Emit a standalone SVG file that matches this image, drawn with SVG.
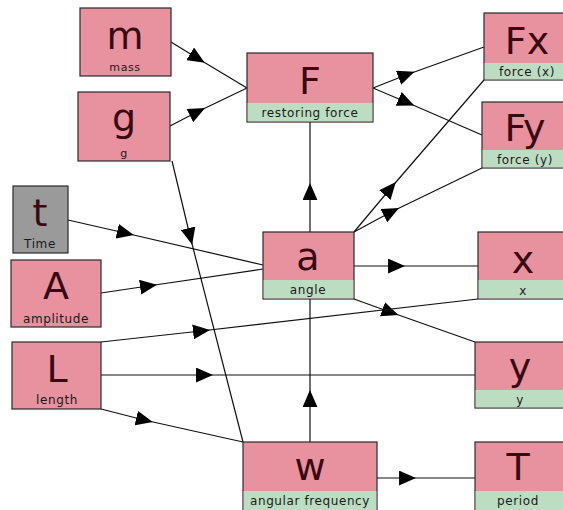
<svg xmlns="http://www.w3.org/2000/svg" width="563" height="510" viewBox="0 0 563 510">
<style>
.box{fill:#E8919F;stroke:#2a2a2a;stroke-width:1.2}
.gray{fill:#9a9a9a;stroke:#2a2a2a;stroke-width:1.2}
.strip{fill:#BCDDC2;stroke:none}
.big{font-family:"DejaVu Sans",sans-serif;font-size:38px;fill:#3a0a12;text-anchor:middle}
.lbl{font-family:"DejaVu Sans",sans-serif;font-size:12px;fill:#1a1a1a;text-anchor:middle;letter-spacing:0.6px}
.c{fill:none;stroke:#111;stroke-width:1.2;marker-mid:url(#arr)}
</style>
<defs>
<marker id="arr" markerUnits="userSpaceOnUse" markerWidth="17" markerHeight="15" refX="7.5" refY="7" orient="auto" viewBox="0 0 16 14">
<path d="M0,0 L16,7 L0,14 z" fill="#000"/>
</marker>
</defs>
<rect width="563" height="510" fill="#fff"/>
<g id="connectors">
<path class="c" d="M171,42 L197,58 L247,88"/>
<path class="c" d="M170,126 L197,112 L247,88"/>
<path class="c" d="M373,88 L406,75 L484,47"/>
<path class="c" d="M373,88 L406,102 L482,135"/>
<path class="c" d="M310,232 L310,192 L310,122"/>
<path class="c" d="M354,232 L390,189 L484,80"/>
<path class="c" d="M354,232 L391,212 L482,168"/>
<path class="c" d="M68,220 L125,233 L263,265"/>
<path class="c" d="M101,293 L148,286 L263,269"/>
<path class="c" d="M172,161 L190,236 L243,442"/>
<path class="c" d="M354,266 L396,266 L478,266"/>
<path class="c" d="M354,299 L390,312 L475,342"/>
<path class="c" d="M101,342 L201,331 L478,299"/>
<path class="c" d="M101,375 L204,375 L475,375"/>
<path class="c" d="M101,409 L144,420 L243,442"/>
<path class="c" d="M310,442 L310,399 L310,299"/>
<path class="c" d="M377,478 L407,478 L475,478"/>
</g>
<g id="m"><rect class="box" x="80" y="8" width="91" height="68"/><text class="big" x="125" y="49">m</text><text class="lbl" x="125" y="71" style="font-size:11px">mass</text></g>
<g id="g"><rect class="box" x="78" y="92" width="92" height="69"/><text class="big" x="124" y="131">g</text><text class="lbl" x="124" y="157" style="font-size:11px">g</text></g>
<g id="F"><rect class="box" x="247" y="53" width="126" height="69"/><rect class="strip" x="247.6" y="103" width="124.8" height="18.4"/><text class="big" x="310" y="94">F</text><text class="lbl" x="310" y="117">restoring force</text></g>
<g id="Fx"><rect class="box" x="484" y="13" width="95" height="67"/><rect class="strip" x="484.6" y="63" width="94" height="16.4"/><text class="big" x="527" y="54">Fx</text><text class="lbl" x="527" y="76">force (x)</text></g>
<g id="Fy"><rect class="box" x="482" y="102" width="95" height="66"/><rect class="strip" x="482.6" y="150" width="94" height="17.4"/><text class="big" x="525" y="141">Fy</text><text class="lbl" x="525" y="164">force (y)</text></g>
<g id="t"><rect class="gray" x="13" y="186" width="55" height="67"/><text class="big" x="40" y="226">t</text><text class="lbl" x="40" y="248">Time</text></g>
<g id="A"><rect class="box" x="11" y="260" width="90" height="67"/><text class="big" x="56" y="299">A</text><text class="lbl" x="56" y="323">amplitude</text></g>
<g id="a"><rect class="box" x="263" y="232" width="91" height="67"/><rect class="strip" x="263.6" y="280" width="89.8" height="18.4"/><text class="big" x="308" y="270">a</text><text class="lbl" x="308" y="294">angle</text></g>
<g id="x"><rect class="box" x="478" y="232" width="100" height="67"/><rect class="strip" x="478.6" y="280" width="99" height="18.4"/><text class="big" x="523" y="273">x</text><text class="lbl" x="523" y="295">x</text></g>
<g id="y"><rect class="box" x="475" y="342" width="100" height="66"/><rect class="strip" x="475.6" y="390" width="99" height="17.4"/><text class="big" x="520" y="380">y</text><text class="lbl" x="520" y="404">y</text></g>
<g id="L"><rect class="box" x="12" y="342" width="89" height="67"/><text class="big" x="57" y="382">L</text><text class="lbl" x="57" y="404">length</text></g>
<g id="w"><rect class="box" x="243" y="442" width="134" height="75"/><rect class="strip" x="243.6" y="491" width="132.8" height="25"/><text class="big" x="310" y="480">w</text><text class="lbl" x="310" y="505">angular frequency</text></g>
<g id="T"><rect class="box" x="475" y="442" width="100" height="75"/><rect class="strip" x="475.6" y="491" width="99" height="25"/><text class="big" x="518" y="480">T</text><text class="lbl" x="518" y="505">period</text></g>
</svg>
